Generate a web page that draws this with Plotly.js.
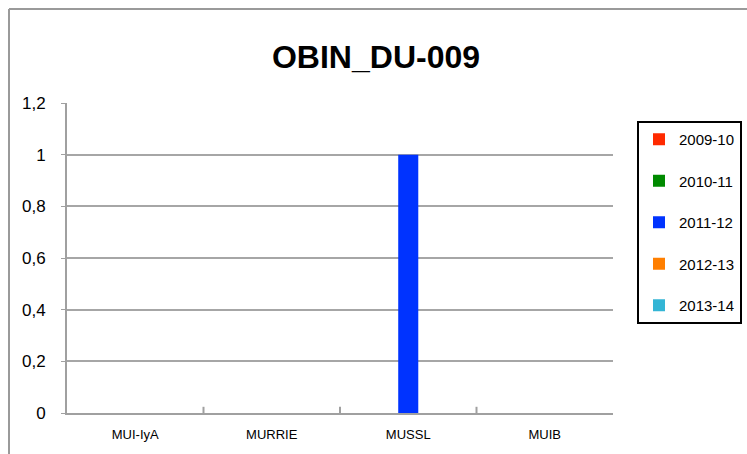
<!DOCTYPE html>
<html><head><meta charset="utf-8">
<script src="https://cdn.plot.ly/plotly-3.0.1.min.js"></script>
<style>html,body{margin:0;padding:0;background:#fff}#c{width:747px;height:454px}</style>
</head><body><div id="c"></div>
<script>
const categories = ["MUI-IyA", "MURRIE", "MUSSL", "MUIB"];
const seriesNames = ["2009-10", "2010-11", "2011-12", "2012-13", "2013-14"];
const v2009 = [0, 0, 0, 0];
const v2010 = [0, 0, 0, 0];
const v2011 = [0, 0, 1, 0];
const v2012 = [0, 0, 0, 0];
const v2013 = [0, 0, 0, 0];
const yTicks = [0, 0.2, 0.4, 0.6, 0.8, 1, 1.2];
const colors = ["#ff2a00", "#008a00", "#0033ff", "#ff7f00", "#33b5d5"];
const values = [v2009, v2010, v2011, v2012, v2013];
const FONT = '"Liberation Sans Narrow", "Arial Narrow", "Liberation Sans", Arial, sans-serif';

const data = seriesNames.map((n, i) => ({
  type: 'bar', name: n, x: categories, y: values[i],
  marker: {color: colors[i]}, legendgroup: 'g' + i
}));

const layout = {
  width: 747, height: 454,
  margin: {l: 67, r: 134, t: 103, b: 41, autoexpand: false},
  paper_bgcolor: '#fff', plot_bgcolor: '#fff',
  separators: ',.',
  barmode: 'group', bargap: 0.265, bargroupgap: 0,
  title: {text: '<b>OBIN_DU-009</b>', x: 376/747, xref: 'container', xanchor: 'center', y: 1 - 57/454, yref: 'container', yanchor: 'middle',
    font: {family: FONT, size: 32, color: '#000'}},
  font: {family: FONT, color: '#000'},
  xaxis: {showgrid: false, showline: true, linecolor: '#a0a0a0', linewidth: 2,
    tickfont: {size: 13, family: FONT}, ticks: '', fixedrange: true, ticklabelstandoff: 8},
  yaxis: {range: [0, 1.2], tickvals: yTicks, showgrid: true, gridcolor: '#a6a6a6', gridwidth: 2,
    showline: true, linecolor: '#a0a0a0', linewidth: 2, zeroline: false,
    ticks: 'outside', ticklen: 4, tickcolor: '#a0a0a0', tickfont: {size: 17, family: FONT},
    ticklabelstandoff: 12},
  legend: {xref: 'container', yref: 'container', x: 637/747, y: 1 - 121/454, xanchor: 'left', yanchor: 'top',
    font: {size: 15, family: FONT},
    bordercolor: '#000', borderwidth: 2, tracegroupgap: 19, traceorder: 'grouped', itemwidth: 30},
  showlegend: true,
  shapes: [
    {type: 'line', xref: 'paper', yref: 'paper', x0: -58/546, x1: -58/546, y0: -0.2, y1: (454-9-41)/310, line: {color: '#9a9a9a', width: 2}},
    {type: 'line', xref: 'paper', yref: 'paper', x0: -58/546, x1: 2, y0: (454-9-41)/310, y1: (454-9-41)/310, line: {color: '#9a9a9a', width: 2}}
  ].concat([1,2,3].map(k => ({type: 'line', xref: 'x', yref: 'paper', x0: k - 0.5, x1: k - 0.5, y0: 0, y1: 0.02, line: {color: '#a0a0a0', width: 2}})))
};

Plotly.newPlot('c', data, layout, {displayModeBar: false, staticPlot: true});
</script></body></html>
